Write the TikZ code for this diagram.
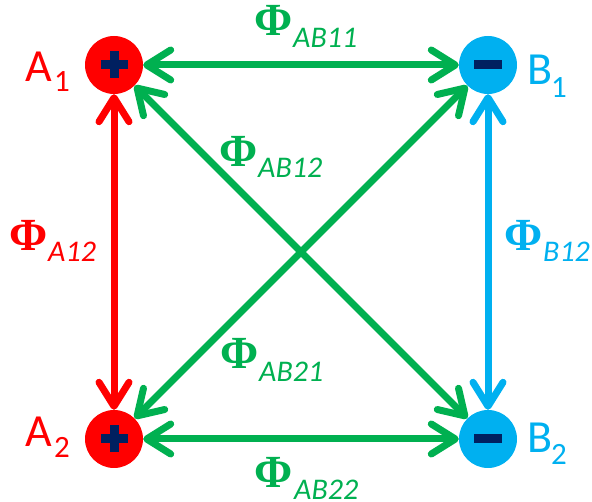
\documentclass[tikz,border=0pt]{standalone}
\usepackage{fontspec}
\setmainfont{Carlito}
\newfontfamily\phif{Liberation Serif}
\usetikzlibrary{arrows.meta}
\definecolor{cred}{HTML}{FF0000}
\definecolor{cblue}{HTML}{00B0F0}
\definecolor{cgreen}{HTML}{00B050}
\definecolor{cnavy}{HTML}{002060}
\tikzset{
  ball/.style={circle, minimum size=58pt, inner sep=0pt},
  tipb/.tip={Straight Barb[length=24pt,width=30pt,round]},
  link/.style={line width=7pt, tipb-tipb},
  ballname/.style={anchor=base west, inner sep=0pt, font=\fontsize{46}{46}\selectfont},
  ballsub/.style={anchor=base west, inner sep=0pt, font=\fontsize{31}{31}\selectfont},
  phi/.style={anchor=base west, inner sep=0pt, font=\phif\bfseries\fontsize{46}{46}\selectfont},
  phisub/.style={anchor=base west, inner sep=0pt, font=\itshape\fontsize{30}{30}\selectfont},
}
\begin{document}
\begin{tikzpicture}[x=1pt,y=-1pt]
\useasboundingbox (0,0) rectangle (592,502);
% balls
\node[ball, fill=cred]  (A1) at (114,65)  {};
\node[ball, fill=cblue] (B1) at (488,65)  {};
\node[ball, fill=cred]  (A2) at (114,439) {};
\node[ball, fill=cblue] (B2) at (488,439) {};
% signs
\foreach \n in {A1,A2}{
  \fill[cnavy] (\n.center) ++(-13.5,-4.5) rectangle ++(27,9);
  \fill[cnavy] (\n.center) ++(-4.5,-13.5) rectangle ++(9,27);
}
\foreach \n in {B1,B2}{
  \fill[cnavy] (\n.center) ++(-14,-4.5) rectangle ++(28,9);
}
% connectors
\draw[link, cred]   (A1) -- (A2);
\draw[link, cblue]  (B1) -- (B2);
\draw[link, cgreen] (A1) -- (B1);
\draw[link, cgreen] (A2) -- (B2);
\draw[link, cgreen] (A1) -- (B2);
\draw[link, cgreen] (A2) -- (B1);
% node names
\node[ballname, text=cred]  (nA1) at (25,82)  {A};
\node[ballsub,  text=cred]  (sA1) at (54,92)  {1};
\node[ballname, text=cblue] (nB1) at (527,85) {B};
\node[ballsub,  text=cblue] (sB1) at (551,98) {1};
\node[ballname, text=cred]  (nA2) at (25,447) {A};
\node[ballsub,  text=cred]  (sA2) at (54,458) {2};
\node[ballname, text=cblue] (nB2) at (527,453) {B};
\node[ballsub,  text=cblue] (sB2) at (551,465) {2};
% flux labels
\node[phi, text=cgreen]    (p11) at (254,36)  {Φ};
\node[phisub, text=cgreen] (q11) at (293,48)  {AB11};
\node[phi, text=cgreen]    (p12) at (219,167) {Φ};
\node[phisub, text=cgreen] (q12) at (258,178) {AB12};
\node[phi, text=cgreen]    (p21) at (220,369) {Φ};
\node[phisub, text=cgreen] (q21) at (259,382) {AB21};
\node[phi, text=cgreen]    (p22) at (254,487) {Φ};
\node[phisub, text=cgreen] (q22) at (294,500) {AB22};
\node[phi, text=cred]      (pA)  at (9,251)   {Φ};
\node[phisub, text=cred]   (qA)  at (48,262)  {A12};
\node[phi, text=cblue]     (pB)  at (504,251) {Φ};
\node[phisub, text=cblue]  (qB)  at (543,262) {B12};
\end{tikzpicture}
\end{document}
